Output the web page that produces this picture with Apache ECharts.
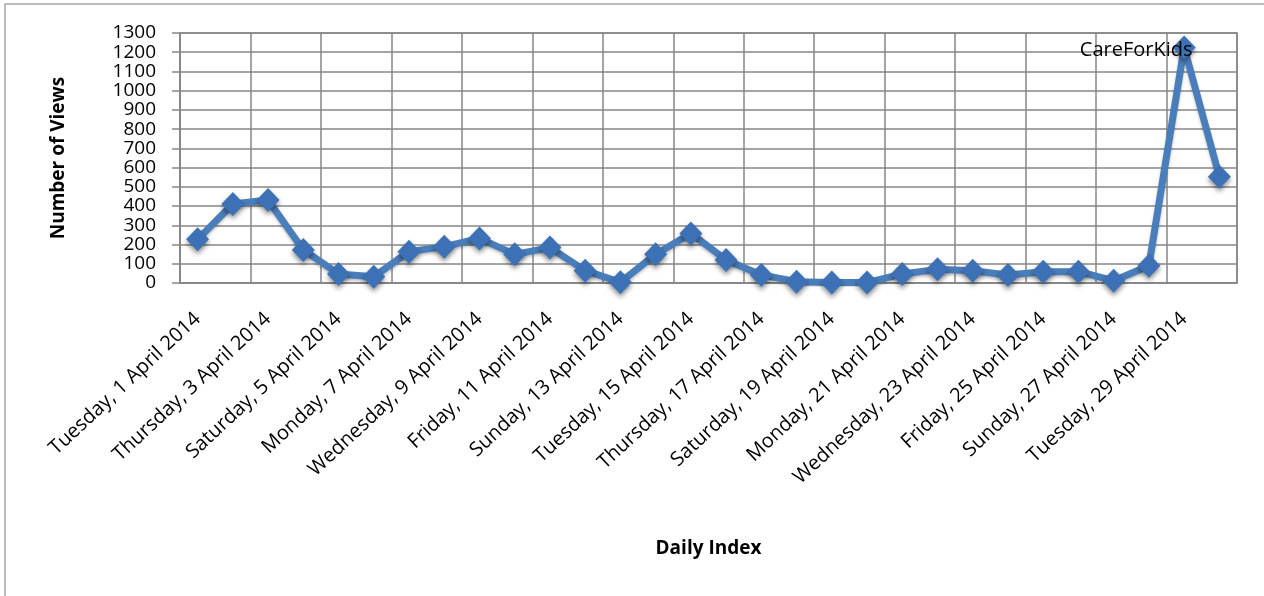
<!DOCTYPE html>
<html>
<head>
<meta charset="utf-8">
<script src="https://cdn.jsdelivr.net/npm/echarts@6/dist/echarts.min.js"></script>
<style>
  html, body { margin: 0; padding: 0; background: #fff; }
  #chart { width: 1264px; height: 596px; }
</style>
</head>
<body>
<div id="chart"></div>
<script>
// daily index, April 2014
const days = [
  'Tuesday, 1 April 2014', 'Wednesday, 2 April 2014', 'Thursday, 3 April 2014',
  'Friday, 4 April 2014', 'Saturday, 5 April 2014', 'Sunday, 6 April 2014',
  'Monday, 7 April 2014', 'Tuesday, 8 April 2014', 'Wednesday, 9 April 2014',
  'Thursday, 10 April 2014', 'Friday, 11 April 2014', 'Saturday, 12 April 2014',
  'Sunday, 13 April 2014', 'Monday, 14 April 2014', 'Tuesday, 15 April 2014',
  'Wednesday, 16 April 2014', 'Thursday, 17 April 2014', 'Friday, 18 April 2014',
  'Saturday, 19 April 2014', 'Sunday, 20 April 2014', 'Monday, 21 April 2014',
  'Tuesday, 22 April 2014', 'Wednesday, 23 April 2014', 'Thursday, 24 April 2014',
  'Friday, 25 April 2014', 'Saturday, 26 April 2014', 'Sunday, 27 April 2014',
  'Monday, 28 April 2014', 'Tuesday, 29 April 2014', 'Wednesday, 30 April 2014'
];
// number of views per day
const views = [
  227, 411, 432, 172, 47, 33, 163, 189, 232, 149,
  184, 64, 4, 149, 258, 120, 42, 7, 2, 2,
  47, 71, 64, 42, 59, 59, 12, 90, 1225, 553
];
const seriesName = 'CareForKids';
const labelIdx = 28; // series name shown at this point

const gridColor = '#868686';
const font = 'Open Sans';

const chart = echarts.init(document.getElementById('chart'));
chart.setOption({
  animation: false,
  backgroundColor: '#fff',
  graphic: [
    {
      type: 'rect',
      shape: { x: 5, y: 4, width: 1270, height: 600 },
      style: { fill: 'none', stroke: '#a6a6a6', lineWidth: 1.5 },
      silent: true,
    },
  ],
  grid: {
    left: 180,
    top: 33,
    right: 27,
    bottom: 313,
    show: true,
    borderColor: gridColor,
    borderWidth: 1.5,
    outerBoundsMode: 'none',
  },
  xAxis: {
    type: 'category',
    data: days,
    boundaryGap: true,
    name: 'Daily Index',
    nameLocation: 'middle',
    nameGap: 256,
    nameTextStyle: { fontFamily: font, fontSize: 19, fontWeight: 'bold', color: '#000' },
    axisLine: { lineStyle: { color: gridColor, width: 1.5 } },
    axisTick: { show: false, interval: 1 },
    splitLine: { show: true, interval: 1, lineStyle: { color: gridColor, width: 1.5 } },
    axisLabel: {
      interval: 1,
      rotate: 43,
      margin: 33,
      hideOverlap: false,
      fontFamily: font,
      fontSize: 20,
      color: '#000',
    },
  },
  yAxis: {
    type: 'value',
    min: 0,
    max: 1300,
    interval: 100,
    name: 'Number of Views',
    nameLocation: 'middle',
    nameGap: 112,
    nameTextStyle: { fontFamily: font, fontSize: 19, fontWeight: 'bold', color: '#000' },
    axisLine: { show: true, lineStyle: { color: gridColor, width: 1.5 } },
    axisTick: { show: true, length: 8, lineStyle: { color: gridColor, width: 1.5 } },
    splitLine: { show: true, lineStyle: { color: gridColor, width: 1.5 } },
    axisLabel: {
      margin: 24,
      formatter: (v) => String(v),
      fontFamily: font,
      fontSize: 19,
      lineHeight: 19,
      color: '#000',
    },
  },
  series: [
    {
      name: seriesName,
      type: 'line',
      data: views.map((v, i) => i === labelIdx ? {
        value: v,
        label: {
          show: true,
          formatter: '{a}',
          position: 'inside',
          offset: [-48, 3],
          fontFamily: font,
          fontSize: 20,
          color: '#000',
        },
      } : v),
      showAllSymbol: true,
      symbol: 'diamond',
      symbolSize: [23, 24],
      lineStyle: {
        color: '#4a7ebb',
        width: 7,
        shadowColor: 'rgba(0,0,0,0.25)',
        shadowBlur: 3,
        shadowOffsetY: 2,
      },
      itemStyle: {
        color: '#3d71b6',
        borderWidth: 0,
        shadowColor: 'rgba(0,0,0,0.45)',
        shadowBlur: 5,
        shadowOffsetY: 3,
      },
      z: 3,
    },
  ],
});
</script>
</body>
</html>
